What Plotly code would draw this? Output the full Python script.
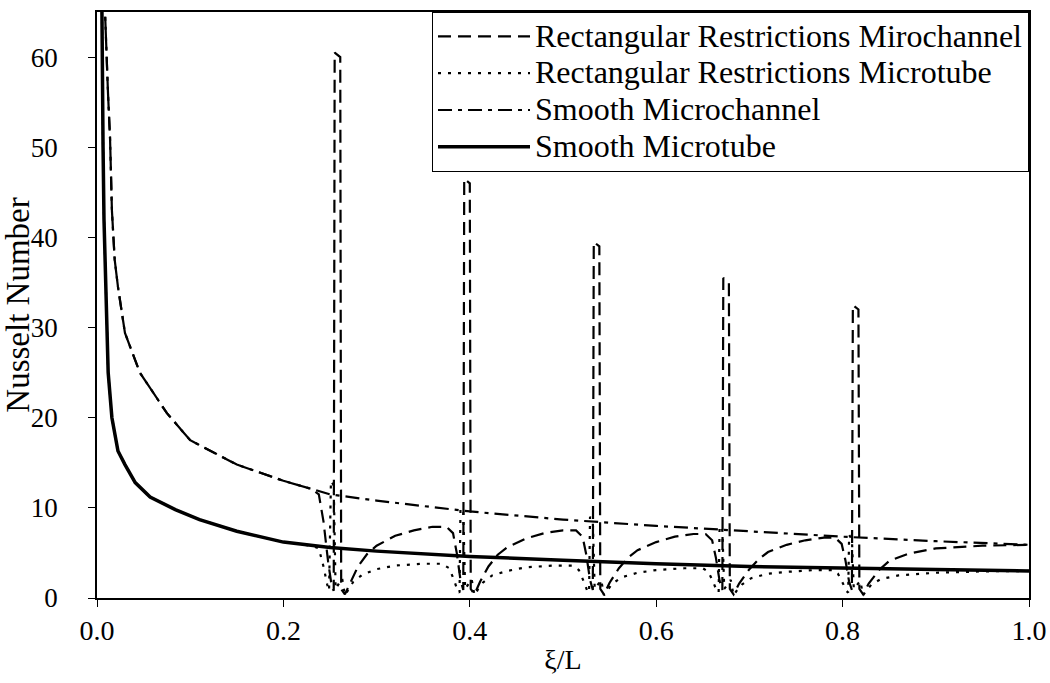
import plotly.graph_objects as go

# ---------------- data ----------------
# Smooth Microtube (solid)
st_x = [0.0045, 0.005, 0.0065, 0.0075, 0.0095, 0.012, 0.016, 0.0225, 0.03, 0.041, 0.057,
        0.084, 0.11, 0.15, 0.2, 0.25, 0.3, 0.4, 0.5, 0.6, 0.7, 0.8, 0.9, 1.0]
st_y = [75, 65, 50, 42, 33, 25, 20, 16.3, 14.8, 12.8, 11.2,
        9.8, 8.7, 7.4, 6.2, 5.6, 5.2, 4.6, 4.2, 3.8, 3.5, 3.3, 3.15, 3.0]

# Smooth Microchannel (dash-dot)
sc_x = [0.007, 0.0086, 0.0118, 0.014, 0.016, 0.019, 0.0225, 0.03, 0.046, 0.075, 0.1,
        0.15, 0.2, 0.25, 0.3, 0.4, 0.5, 0.6, 0.7, 0.8, 0.9, 1.0]
sc_y = [80, 65, 56, 51, 43, 37.5, 34.5, 29.4, 25, 20.5, 17.5,
        14.8, 13.0, 11.5, 10.8, 9.6, 8.7, 8.0, 7.4, 6.8, 6.3, 5.9]

# Rectangular Restrictions Microchannel (long dash)
rc_x = [0.007, 0.0086, 0.0118, 0.014, 0.016, 0.019, 0.0225, 0.03, 0.046, 0.075, 0.1,
        0.15, 0.2, 0.23, 0.238,
        0.243, 0.248, 0.252, 0.254,
        0.255, 0.261, 0.262, 0.266,
        0.272, 0.28, 0.29, 0.30, 0.32, 0.34, 0.36, 0.375, 0.382, 0.386, 0.390, 0.393,
        0.394, 0.400, 0.401, 0.405,
        0.411, 0.42, 0.43, 0.44, 0.46, 0.48, 0.50, 0.514, 0.521, 0.525, 0.529, 0.532,
        0.533, 0.539, 0.540, 0.544,
        0.550, 0.56, 0.57, 0.58, 0.60, 0.62, 0.64, 0.653, 0.660, 0.664, 0.668, 0.671,
        0.672, 0.678, 0.679, 0.683,
        0.689, 0.70, 0.71, 0.72, 0.74, 0.76, 0.78, 0.792, 0.799, 0.803, 0.807, 0.810,
        0.811, 0.817, 0.818, 0.822,
        0.828, 0.84, 0.85, 0.87, 0.90, 0.95, 1.0]
rc_y = [80, 65, 56, 51, 43, 37.5, 34.5, 29.4, 25, 20.5, 17.5,
        14.8, 13.0, 12.1, 11.5,
        8.5, 4.0, 1.2, 0.8,
        60.5, 60.0, 1.0, 0.4,
        1.8, 3.5, 4.9, 5.8, 6.9, 7.5, 7.9, 7.9, 7.2, 5.0, 2.0, 0.9,
        46.5, 46.0, 1.0, 0.4,
        1.8, 3.5, 4.8, 5.6, 6.6, 7.2, 7.5, 7.5, 6.8, 4.8, 2.0, 0.9,
        39.5, 39.0, 1.0, 0.4,
        1.7, 3.3, 4.5, 5.3, 6.2, 6.8, 7.1, 7.1, 6.4, 4.5, 1.9, 0.9,
        35.5, 35.0, 1.0, 0.4,
        1.6, 3.2, 4.3, 5.1, 5.9, 6.4, 6.7, 6.7, 6.0, 4.2, 1.8, 0.9,
        32.5, 32.0, 1.0, 0.4,
        1.6, 3.2, 4.1, 4.9, 5.5, 5.8, 5.9]

# Rectangular Restrictions Microtube (dotted)
rt_x = [0.0045, 0.005, 0.0065, 0.0075, 0.0095, 0.012, 0.016, 0.0225, 0.03, 0.041, 0.057,
        0.084, 0.11, 0.15, 0.2, 0.23, 0.238,
        0.243, 0.247, 0.249, 0.251, 0.254, 0.256,
        0.263, 0.266, 0.270, 0.275, 0.285, 0.30, 0.32, 0.35, 0.37, 0.378, 0.383, 0.387,
        0.389, 0.390, 0.393, 0.395,
        0.402, 0.405, 0.409, 0.414, 0.424, 0.44, 0.46, 0.49, 0.51, 0.517, 0.522, 0.526,
        0.528, 0.529, 0.532, 0.534,
        0.541, 0.544, 0.548, 0.553, 0.563, 0.58, 0.60, 0.63, 0.65, 0.656, 0.661, 0.665,
        0.667, 0.668, 0.671, 0.673,
        0.680, 0.683, 0.687, 0.692, 0.702, 0.72, 0.74, 0.77, 0.79, 0.795, 0.800, 0.804,
        0.806, 0.807, 0.810, 0.812,
        0.819, 0.822, 0.826, 0.831, 0.841, 0.86, 0.90, 0.95, 1.0]
rt_y = [75, 65, 50, 42, 33, 25, 20, 16.3, 14.8, 12.8, 11.2,
        9.8, 8.7, 7.4, 6.2, 5.8, 5.5,
        3.5, 1.5, 0.8, 13.0, 12.5, 1.0,
        2.2, 0.3, 1.0, 1.8, 2.6, 3.2, 3.6, 3.8, 3.8, 3.3, 2.0, 0.8,
        0.6, 10.0, 9.5, 1.0,
        2.1, 0.3, 1.0, 1.7, 2.5, 3.0, 3.4, 3.6, 3.6, 3.1, 1.9, 0.8,
        0.6, 9.0, 8.5, 1.0,
        2.0, 0.3, 0.9, 1.6, 2.3, 2.8, 3.1, 3.3, 3.3, 2.9, 1.8, 0.8,
        0.6, 8.0, 7.5, 1.0,
        2.0, 0.3, 0.9, 1.5, 2.2, 2.7, 2.9, 3.1, 3.1, 2.7, 1.7, 0.8,
        0.6, 7.0, 6.5, 1.0,
        1.9, 0.3, 0.9, 1.5, 2.1, 2.5, 2.8, 2.95, 3.0]

series_names = ["Rectangular Restrictions Mirochannel", "Rectangular Restrictions Microtube",
                "Smooth Microchannel", "Smooth Microtube"]

x_ticks = [0.0, 0.2, 0.4, 0.6, 0.8, 1.0]
y_ticks = [0, 10, 20, 30, 40, 50, 60]

FONT = "Liberation Serif, Times New Roman, serif"


def leg(name):
    return f'<span style="font-size:32px">{name}</span>'


fig = go.Figure()
fig.add_trace(go.Scatter(x=rc_x, y=rc_y, mode="lines", name=leg(series_names[0]),
                         line=dict(color="black", width=2.2, dash="13px,7px")))
fig.add_trace(go.Scatter(x=rt_x, y=rt_y, mode="lines", name=leg(series_names[1]),
                         line=dict(color="black", width=2.2, dash="3px,7px")))
fig.add_trace(go.Scatter(x=sc_x, y=sc_y, mode="lines", name=leg(series_names[2]),
                         line=dict(color="black", width=2.2, dash="14px,6px,4px,6px")))
fig.add_trace(go.Scatter(x=st_x, y=st_y, mode="lines", name=leg(series_names[3]),
                         line=dict(color="black", width=3.5)))

fig.update_layout(
    width=1050, height=683,
    margin=dict(l=97, r=21, t=12, b=85),
    paper_bgcolor="white", plot_bgcolor="white",
    font=dict(family=FONT, size=28, color="black"),
    showlegend=True,
    legend=dict(x=1.0, y=1.0, xanchor="right", yanchor="top",
                bgcolor="white", bordercolor="black", borderwidth=1,
                font=dict(family=FONT, size=26, color="black"),
                tracegroupgap=0, itemwidth=92),
)
fig.update_xaxes(range=[0, 1], tickvals=x_ticks, ticktext=[f"{v:.1f}" for v in x_ticks],
                 automargin=False,
                 showgrid=False, zeroline=False, showline=True, linecolor="black", linewidth=1.5,
                 mirror=True, ticks="outside", ticklen=7, tickcolor="black",
                 tickfont=dict(family=FONT, size=28), ticklabelstandoff=0,
                 title=dict(text="ξ/L", font=dict(family=FONT, size=28), standoff=4))
fig.update_yaxes(range=[0, 65], tickvals=y_ticks, automargin=False,
                 showgrid=False, zeroline=False, showline=True, linecolor="black", linewidth=1.5,
                 mirror=True, ticks="outside", ticklen=7, tickcolor="black",
                 tickfont=dict(family=FONT, size=27), ticklabelstandoff=25,
                 title=dict(text="Nusselt Number", font=dict(family=FONT, size=33), standoff=2))

fig.write_html("out.html")
